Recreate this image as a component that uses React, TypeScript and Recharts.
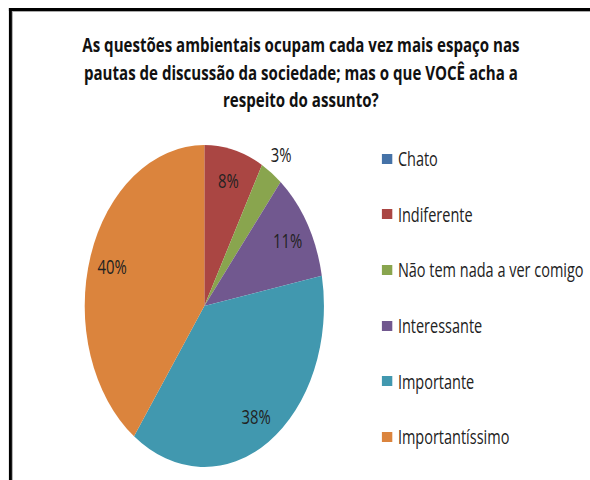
import React from "react";
import { PieChart, Pie, Cell, Legend } from "recharts";

const categories = [
  "Chato",
  "Indiferente",
  "Não tem nada a ver comigo",
  "Interessante",
  "Importante",
  "Importantíssimo",
];
const shares = [0, 8, 3, 11, 38, 40];
const colors = ["#4572A7", "#AA4643", "#89A54E", "#71588F", "#4198AF", "#DB843D"];
const titleLines = [
  "As questões ambientais ocupam cada vez mais espaço nas",
  "pautas de discussão da sociedade; mas o que VOCÊ acha a",
  "respeito do assunto?",
];

const data = categories.map((name, i) => ({ name, value: shares[i] }));

// the source picture is squeezed sideways, so everything is drawn wide and scaled
const SX = 0.743;
const W = 800;
const H = 480;
const FONT = "'Open Sans', sans-serif";
const RAD = Math.PI / 180;

const renderLabel = (props: any) => {
  const { cx, cy, midAngle, outerRadius, percent } = props;
  if (!percent) return null;
  const r = percent < 0.05 ? outerRadius + 23 : outerRadius * 0.81;
  const x = cx + r * Math.cos(-midAngle * RAD);
  const y = cy + r * Math.sin(-midAngle * RAD);
  return (
    <text
      x={x}
      y={y}
      fill="#222"
      fontSize={20}
      fontFamily={FONT}
      textAnchor="middle"
      dominantBaseline="central"
    >
      {Math.round(percent * 100) + "%"}
    </text>
  );
};

const LegendBox = () => (
  <div style={{ fontFamily: FONT, fontSize: 19.5, color: "#222" }}>
    {categories.map((name, i) => (
      <div
        key={name}
        style={{ height: 55.6, display: "flex", alignItems: "center", whiteSpace: "nowrap" }}
      >
        <span
          style={{
            display: "inline-block",
            width: 13.5,
            height: 10,
            background: colors[i],
            marginRight: 8,
          }}
        />
        {name}
      </div>
    ))}
  </div>
);

const App = () => {
  return (
    <div
      style={{
        position: "absolute",
        left: 0,
        top: 0,
        width: W,
        height: H,
        overflow: "hidden",
        transform: `scaleX(${SX})`,
        transformOrigin: "0 0",
        background: "#fff",
      }}
    >
      <div
        style={{
          position: "absolute",
          left: 11.5,
          top: 8,
          width: W,
          height: H,
          borderTop: "3px solid #000",
          borderLeft: "4px solid #000",
          boxShadow: "inset 1.3px 1px 0 #aaa",
        }}
      />
      <div
        style={{
          position: "absolute",
          left: 0,
          top: 31,
          width: 810,
          textAlign: "center",
          fontFamily: FONT,
          fontWeight: 700,
          fontSize: 20.3,
          lineHeight: "27.5px",
          color: "#111",
        }}
      >
        {titleLines.map((t) => (
          <div key={t} style={{ whiteSpace: "nowrap" }}>{t}</div>
        ))}
      </div>
      <div style={{ position: "absolute", left: 0, top: 0 }}>
        <PieChart width={W} height={H} margin={{ top: 0, right: 0, bottom: 0, left: 0 }}>
          <Pie
            data={data}
            dataKey="value"
            nameKey="name"
            cx={275}
            cy={306}
            outerRadius={161}
            startAngle={90}
            endAngle={-270}
            stroke="none"
            label={renderLabel}
            labelLine={false}
            isAnimationActive={false}
          >
            {data.map((d, i) => (
              <Cell key={d.name} fill={colors[i]} />
            ))}
          </Pie>
          <Legend
            layout="vertical"
            align="right"
            verticalAlign="top"
            content={() => <LegendBox />}
            wrapperStyle={{ left: 514, top: 131, width: 290 }}
          />
        </PieChart>
      </div>
    </div>
  );
};

export default App;
